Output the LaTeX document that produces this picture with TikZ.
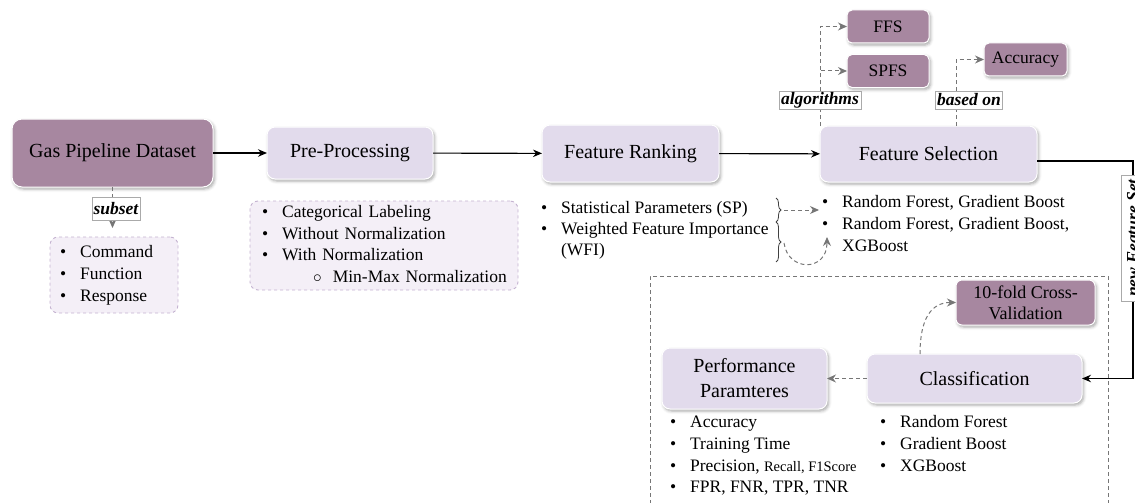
\documentclass[tikz,border=0pt]{standalone}
\usepackage{fontspec}
\setmainfont{LiberationSerif}[Extension=.ttf, UprightFont=*-Regular, BoldFont=*-Bold,
  ItalicFont=*-Italic, BoldItalicFont=*-BoldItalic]
\usetikzlibrary{arrows.meta,shadows.blur,decorations.pathreplacing,calc}

\definecolor{mauve}{RGB}{167,135,160}
\definecolor{lilac}{RGB}{226,219,236}
\definecolor{listfill}{RGB}{244,239,247}
\definecolor{listedge}{RGB}{196,178,208}
\definecolor{dashgray}{RGB}{118,118,118}
\definecolor{tagedge}{RGB}{170,170,170}

% bullet list: bullet column + text column
\newcommand{\itemlist}[1]{\begin{tabular}{@{}c@{\hspace{14pt}}l@{}}#1\end{tabular}}

\begin{document}
\begin{tikzpicture}[x=1pt,y=-1pt,
  every node/.style={inner sep=0pt, outer sep=0pt},
  box/.style={rounded corners=8pt, draw=white, line width=1pt, align=center,
    blur shadow={shadow xshift=1.5pt, shadow yshift=-2pt, shadow blur radius=3pt, shadow opacity=35}},
  darkbox/.style={box, fill=mauve},
  lightbox/.style={box, fill=lilac},
  bigfont/.style={font=\fontsize{20}{24}\selectfont},
  midfont/.style={font=\fontsize{17.5}{21}\selectfont},
  listfont/.style={font=\fontsize{17.5}{#1}\selectfont},
  listbox/.style={draw=listedge, fill=listfill, dashed, line width=0.9pt, rounded corners=8pt,
    align=left, inner ysep=0pt},
  tag/.style={fill=white, draw=tagedge, line width=0.6pt, font=\fontsize{17.5}{21}\selectfont\bfseries\itshape,
    inner xsep=1.5pt},
  flow/.style={draw=black, line width=1.1pt, -{Stealth[length=9pt,width=7.5pt]}},
  dflow/.style={draw=dashgray, line width=1pt, dash pattern=on 4pt off 3pt, -{Stealth[length=9pt,width=8pt]}},
  frame/.style={draw=dashgray, line width=0.9pt, dash pattern=on 4pt off 3pt},
  bracestyle/.style={draw=black!75, line width=0.8pt, decorate, decoration={brace, amplitude=5pt}}
]
\useasboundingbox (0,0) rectangle (1135,503);

% evaluation frame (runs off the bottom edge)
\node[frame, anchor=north west, minimum width=458pt, minimum height=260pt] (evalframe) at (650,276) {};

% main pipeline boxes
\node[darkbox, bigfont, minimum width=201pt, minimum height=68pt, rounded corners=10pt] (gas) at (112.5,153) {Gas Pipeline Dataset};
\node[lightbox, bigfont, minimum width=166pt, minimum height=52pt] (pre) at (350,153) {Pre-Processing};
\node[lightbox, bigfont, minimum width=177pt, minimum height=57pt] (rank) at (630.5,153.5) {Feature Ranking};
\node[lightbox, bigfont, minimum width=217pt, minimum height=56pt] (sel) at (928.5,154) {Feature Selection};

% selection algorithms and criterion
\node[darkbox, midfont, minimum width=82pt, minimum height=33pt, rounded corners=5pt] (ffs) at (888,26.5) {FFS};
\node[darkbox, midfont, minimum width=82pt, minimum height=33pt, rounded corners=5pt] (spfs) at (888,71) {SPFS};
\node[darkbox, midfont, minimum width=83pt, minimum height=33pt, rounded corners=5pt] (acc) at (1025.5,59.5) {Accuracy};

% classification stage
\node[darkbox, font=\fontsize{18}{21}\selectfont, minimum width=139pt, minimum height=45pt, rounded corners=6pt] (cv) at (1025.5,302.5) {10-fold Cross-\\Validation};
\node[lightbox, bigfont, minimum width=215pt, minimum height=49pt] (cls) at (974.5,378.5) {Classification};
\node[lightbox, font=\fontsize{20}{25}\selectfont, minimum width=165pt, minimum height=61pt] (perf) at (744.5,378.5) {Performance\\Paramteres};

% bullet lists
\node[listbox, listfont=22, anchor=north west, text width=108pt, minimum height=76pt, inner xsep=10pt] (cmd) at (50,237)
  {\noindent\itemlist{\textbullet & Command\\ \textbullet & Function\\ \textbullet & Response}};
\node[listbox, listfont=21.5, anchor=north west, text width=244pt, minimum height=89pt, inner xsep=12pt] (prep) at (250,201)
  {\noindent\itemlist{\textbullet & Categorical Labeling\\ \textbullet & Without Normalization\\ \textbullet & With Normalization\\
   & \hspace{31pt}$\circ$\hspace{11pt}Min-Max Normalization}};
\node[listfont=21, anchor=north west] (rlist) at (541,198.5)
  {\itemlist{\textbullet & Statistical Parameters (SP)\\ \textbullet & Weighted Feature Importance\\ & (WFI)}};
\node[listfont=22, anchor=north west] (slist) at (822,192.5)
  {\itemlist{\textbullet & Random Forest, Gradient Boost\\ \textbullet & Random Forest, Gradient Boost,\\ & XGBoost}};
\node[listfont=21.7, anchor=north west] (plist) at (670,412.5)
  {\itemlist{\textbullet & Accuracy\\ \textbullet & Training Time\\
   \textbullet & Precision, {\fontsize{14.5}{21.7}\selectfont Recall, F1Score}\\ \textbullet & FPR, FNR, TPR, TNR}};
\node[listfont=22, anchor=north west] (clist) at (880,412.5)
  {\itemlist{\textbullet & Random Forest\\ \textbullet & Gradient Boost\\ \textbullet & XGBoost}};

% main flow
\draw[flow] (gas) -- (pre);
\draw[flow] (pre) -- (rank);
\draw[flow] (rank) -- (sel);
\coordinate (rail) at (1133,161);
\draw[flow] (sel.east |- rail) -- (rail) |- (cls.east);
\node[tag, rotate=90, minimum height=24pt, inner xsep=4pt] (nfs) at (1133,238) {new Feature Set};

% subset of the dataset
\draw[dflow, shorten >=9pt] (gas.south) -- (gas.south |- cmd.north);
\node[tag, minimum width=46pt, minimum height=23pt] (subl) at (116,208.5) {subset};

% algorithms and criterion of the selection
\draw[dflow] (sel.north west) |- (ffs.west);
\draw[dflow] (sel.north west) |- (spfs.west);
\draw[dflow] ([xshift=27.5pt]sel.north) |- (acc.west);
\node[tag, minimum width=82pt, minimum height=18pt] (algl) at (820,100) {algorithms};
\node[tag, minimum width=66pt, minimum height=18pt] (basl) at (969,100) {based on};

% ranking methods map onto selection models
\coordinate (br1a) at (776,198);
\coordinate (br1b) at (776,222);
\coordinate (br2b) at (776,262);
\draw[bracestyle] (br1a) -- (br1b);
\draw[bracestyle] (br1b) -- (br2b);
\coordinate (b1) at (784,210);
\coordinate (b2) at (784,243);
\coordinate (t1) at (819,210);
\coordinate (t2) at (827,237);
\draw[dflow] (b1) -- (t1);
\draw[dflow] (b2) .. controls (788,272) and (827,272) .. (t2);

% classification outputs
\draw[dflow] (cls) -- (perf);
\draw[dflow] ([xshift=-54.5pt]cls.north) .. controls +(0,-35) and +(-25,0) .. (cv.west);
\end{tikzpicture}
\end{document}
